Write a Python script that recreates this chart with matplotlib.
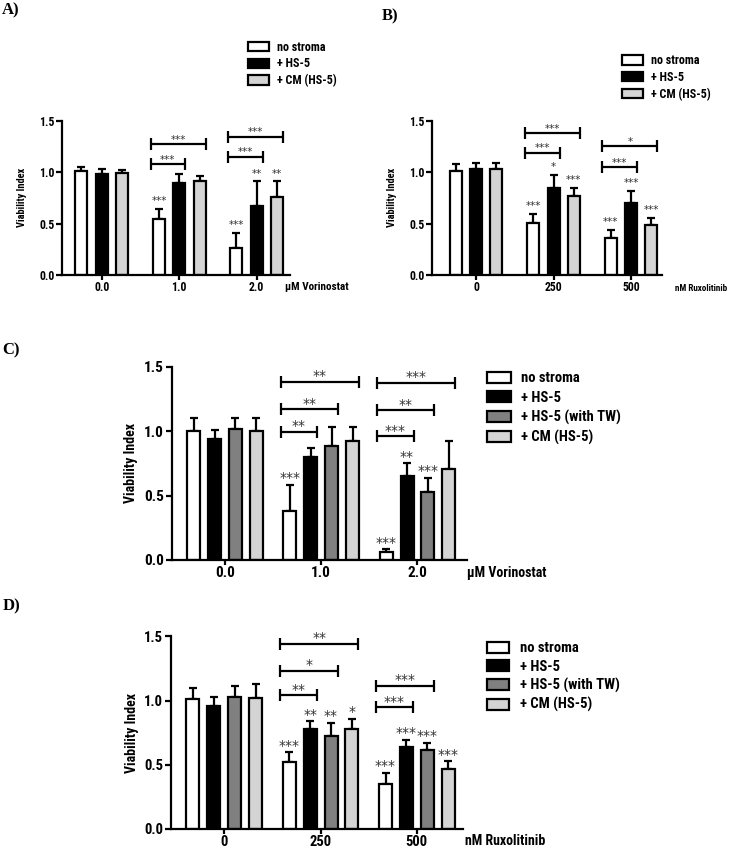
"""
Viability index bar panels (A-D), stroma protection
"""
import matplotlib
matplotlib.use("Agg")
import matplotlib.pyplot as plt
from matplotlib.patches import Patch
import numpy as np

plt.rcParams['font.family'] = ['Roboto Condensed', 'DejaVu Sans']

# ---- data ----
# A) vorinostat, 3 conditions
a_doses = ["0.0", "1.0", "2.0"]
a_series = ["no stroma", "+ HS-5", "+ CM (HS-5)"]
a_mean = [[1.01, 0.54, 0.26],
          [0.985, 0.89, 0.67],
          [0.99, 0.91, 0.76]]
a_err = [[0.035, 0.10, 0.15],
         [0.045, 0.09, 0.24],
         [0.03, 0.055, 0.15]]
a_stars = [["", "***", "***"],
           ["", "", "**"],
           ["", "", "**"]]
# brackets: (group, target series, height, label)
a_brackets = [(1, 1, 1.075, "***"), (1, 2, 1.27, "***"),
              (2, 1, 1.15, "***"), (2, 2, 1.345, "***")]

# B) ruxolitinib, 3 conditions
b_doses = ["0", "250", "500"]
b_series = ["no stroma", "+ HS-5", "+ CM (HS-5)"]
b_mean = [[1.01, 0.51, 0.356],
          [1.027, 0.85, 0.70],
          [1.027, 0.77, 0.486]]
b_err = [[0.065, 0.08, 0.08],
         [0.063, 0.125, 0.12],
         [0.058, 0.08, 0.068]]
b_stars = [["", "***", "***"],
           ["", "*", "***"],
           ["", "***", "***"]]
b_brackets = [(1, 1, 1.19, "***"), (1, 2, 1.38, "***"),
              (2, 1, 1.05, "***"), (2, 2, 1.25, "*")]

# C) vorinostat, 4 conditions
c_doses = ["0.0", "1.0", "2.0"]
c_series = ["no stroma", "+ HS-5", "+ HS-5 (with TW)", "+ CM (HS-5)"]
c_mean = [[1.003, 0.383, 0.065],
          [0.936, 0.80, 0.654],
          [1.014, 0.884, 0.525],
          [1.003, 0.926, 0.706]]
c_err = [[0.097, 0.197, 0.018],
         [0.074, 0.07, 0.096],
         [0.086, 0.146, 0.115],
         [0.097, 0.104, 0.214]]
c_stars = [["", "***", "***"],
           ["", "", "**"],
           ["", "", "***"],
           ["", "", ""]]
c_brackets = [(1, 1, 0.996, "**"), (1, 2, 1.17, "**"), (1, 3, 1.383, "**"),
              (2, 1, 0.962, "***"), (2, 2, 1.164, "**"), (2, 3, 1.376, "***")]

# D) ruxolitinib, 4 conditions
d_doses = ["0", "250", "500"]
d_series = ["no stroma", "+ HS-5", "+ HS-5 (with TW)", "+ CM (HS-5)"]
d_mean = [[1.011, 0.517, 0.351],
          [0.954, 0.777, 0.637],
          [1.024, 0.72, 0.616],
          [1.019, 0.777, 0.468]]
d_err = [[0.089, 0.078, 0.083],
         [0.076, 0.06, 0.057],
         [0.091, 0.104, 0.052],
         [0.109, 0.081, 0.057]]
d_stars = [["", "***", "***"],
           ["", "**", "***"],
           ["", "**", "***"],
           ["", "*", "***"]]
d_brackets = [(1, 1, 1.04, "**"), (1, 2, 1.232, "*"), (1, 3, 1.443, "**"),
              (2, 1, 0.946, "***"), (2, 2, 1.115, "***")]

colores3 = ["white", "black", "#d4d4d4"]
colores4 = ["white", "black", "#808080", "#d4d4d4"]


def panel(fig, rect, doses, series, mean, err, stars, brackets, colores,
          sep, ancho, xlim, unidad, unidad_xy, fs, etiqueta, leyenda, sfs, soff):
    ax = fig.add_axes(rect)
    n = len(series)
    x = np.arange(len(doses))
    offs = (np.arange(n) - (n - 1) / 2) * sep
    for i in range(n):
        ax.bar(x + offs[i], mean[i], ancho, color=colores[i], edgecolor="black",
               linewidth=1.6, zorder=2)
        ax.errorbar(x + offs[i], mean[i], yerr=[np.zeros(len(doses)), err[i]],
                    fmt="none", ecolor="black", elinewidth=1.6, capsize=3.2,
                    capthick=1.6, zorder=1)
        for j, s in enumerate(stars[i]):
            if s:
                ax.annotate(s, (x[j] + offs[i], mean[i][j] + err[i][j]),
                            xytext=(0, soff), textcoords="offset points",
                            ha="center", va="baseline", fontsize=sfs,
                            color="#333333", family="DejaVu Sans")
    for g, t, h, s in brackets:
        x0 = x[g] + offs[0] - ancho / 2 - 0.03
        x1 = x[g] + offs[t] + ancho / 2
        ax.plot([x0, x1], [h, h], color="black", lw=1.6, marker="|", ms=8,
                mew=1.6, solid_capstyle="butt", clip_on=False)
        ax.annotate(s, ((x0 + x1) / 2, h), xytext=(0, 1), textcoords="offset points",
                    ha="center", va="baseline", fontsize=sfs, color="#333333",
                    family="DejaVu Sans")

    ax.set_xlim(*xlim)
    ax.set_ylim(0, 1.5)
    ax.set_yticks([0, 0.5, 1.0, 1.5])
    ax.set_yticklabels(["0.0", "0.5", "1.0", "1.5"])
    ax.set_xticks(x)
    ax.set_xticklabels(doses)
    for sp in ["top", "right"]:
        ax.spines[sp].set_visible(False)
    for sp in ["left", "bottom"]:
        ax.spines[sp].set_linewidth(1.6)
    ax.tick_params(width=1.6, length=4, labelsize=fs, pad=1.5)
    ax.tick_params(axis="x", length=3.5, pad=0.8)
    for lbl in ax.get_xticklabels() + ax.get_yticklabels():
        lbl.set_fontweight("bold")
    ax.set_ylabel("Viability Index", fontsize=etiqueta[1], fontweight="bold")
    ax.yaxis.set_label_coords(etiqueta[0], 0.5)
    ax.text(unidad_xy[0], unidad_xy[1], unidad, transform=ax.transAxes,
            ha="left", va="center", fontsize=unidad_xy[2], fontweight="bold")

    handles = [Patch(facecolor=c, edgecolor="black", linewidth=1.6) for c in colores]
    fig.legend(handles, series, loc="upper left", bbox_to_anchor=leyenda[0],
               frameon=False, handlelength=leyenda[2],
               handleheight=0.8, handletextpad=0.7, labelspacing=leyenda[3],
               borderpad=0, borderaxespad=0, prop={"weight": "bold", "size": leyenda[1]})
    return ax


fig = plt.figure(figsize=(7.31, 8.5), dpi=100)

panel(fig, [0.0852, 0.6765, 0.3115, 0.1815], a_doses, a_series, a_mean, a_err,
      a_stars, a_brackets, colores3, 0.262, 0.155, (-0.51, 2.43),
      "\u03bcM Vorinostat", (0.978, -0.076, 8), 8.5, (-0.156, 7.5),
      ((0.339, 0.952), 8.7, 1.75, 0.3), 7.5, 3.5)
panel(fig, [0.5914, 0.6765, 0.3138, 0.1815], b_doses, b_series, b_mean, b_err,
      b_stars, b_brackets, colores3, 0.262, 0.155, (-0.564, 2.396),
      "nM Ruxolitinib", (1.06, -0.085, 6.5), 8.5, (-0.156, 7.5),
      ((0.8505, 0.9362), 8.7, 1.75, 0.3), 7.5, 3.5)
panel(fig, [0.2349, 0.3412, 0.4036, 0.2274], c_doses, c_series, c_mean, c_err,
      c_stars, c_brackets, colores4, 0.217, 0.135, (-0.554, 2.512),
      "\u03bcM Vorinostat", (1.002, -0.069, 10), 11, (-0.113, 10),
      ((0.6658, 0.5632), 10.5, 1.65, 0.36), 10, 2)
panel(fig, [0.2335, 0.025, 0.400, 0.2263], d_doses, d_series, d_mean, d_err,
      d_stars, d_brackets, colores4, 0.217, 0.135, (-0.557, 2.48),
      "nM Ruxolitinib", (1.007, -0.062, 10), 10.5, (-0.11, 10),
      ((0.6658, 0.2455), 10.5, 1.55, 0.3), 10, 2)

for s, (px, py) in zip(["A)", "B)", "C)", "D)"], [(2, 10), (382, 16.7), (2, 350), (3, 606.7)]):
    fig.text(px / 731, 1 - py / 850, s, ha="left", va="center", fontsize=12,
             fontweight="bold", family="Liberation Serif")

fig.savefig("out.png", dpi=100)
